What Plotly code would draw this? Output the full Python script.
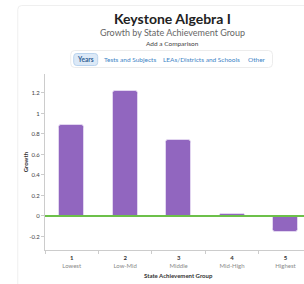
import plotly.graph_objects as go

# ---- data ----
categories = ["1", "2", "3", "4", "5"]
group_labels = ["Lowest", "Low-Mid", "Middle", "Mid-High", "Highest"]
growth = [0.89, 1.22, 0.74, 0.02, -0.16]

W, H = 304, 284
L, T, B_edge = 44.75, 74, 250   # plot area in window pixels
B = H - B_edge
R = 0
PW = W - L - R
PH = H - T - B

def px(x):
    return (x - L) / PW

def py(y):
    return (H - B - y) / PH

def rrect(x0, y0, x1, y1, r):
    rx = r / PW
    ry = r / PH
    a, b, c, d = px(x0), px(x1), py(y0), py(y1)  # c top, d bottom
    return (f"M {a+rx},{c} L {b-rx},{c} Q {b},{c} {b},{c-ry} "
            f"L {b},{d+ry} Q {b},{d} {b-rx},{d} L {a+rx},{d} "
            f"Q {a},{d} {a},{d+ry} L {a},{c-ry} Q {a},{c} {a+rx},{c} Z")

font = "Lato, 'Open Sans', sans-serif"

ticktext = [f"<b>{c}</b><br><span style='color:#8a8a8a'>{g}</span>"
            for c, g in zip(categories, group_labels)]

fig = go.Figure(go.Bar(
    x=categories, y=growth, width=0.47,
    marker=dict(color="#9166bf", line=dict(color="#e2d6f0", width=1),
                cornerradius=3),
    hoverinfo="skip",
))

shapes = [
    dict(type="path", xref="paper", yref="paper",
         path=rrect(17.5, 5.5, 330, 300, 4),
         line=dict(color="#efefef", width=1), fillcolor="rgba(0,0,0,0)", layer="below"),
    dict(type="path", xref="paper", yref="paper",
         path=rrect(70.5, 50.5, 272.5, 67.5, 4),
         line=dict(color="#ececec", width=1), fillcolor="white", layer="below"),
    dict(type="path", xref="paper", yref="paper",
         path=rrect(73.5, 53.5, 97.5, 65.5, 3),
         line=dict(color="#b9d3ee", width=1), fillcolor="#dce9f7", layer="below"),
    dict(type="line", xref="paper", yref="y", x0=0, x1=1, y0=0, y1=0,
         line=dict(color="#6cc04a", width=2), layer="above"),
]

def ann(text, x, y, size, color, **kw):
    d = dict(text=text, x=px(x), y=py(y), xref="paper", yref="paper",
             showarrow=False, font=dict(size=size, color=color),
             xanchor="center", yanchor="middle")
    d.update(kw)
    return d

annotations = [
    ann("<b>Keystone Algebra I</b>", 172, 18, 14, "#222"),
    ann("Growth by State Achievement Group", 172, 32, 9, "#666"),
    ann("Add a Comparison", 172, 43, 6.5, "#444"),
    ann("<b>Years</b>", 85.5, 59.5, 6.5, "#2f5f94"),
    ann("Tests and Subjects", 129.5, 59.5, 6.5, "#3d84c6"),
    ann("LEAs/Districts and Schools", 201.5, 59.5, 6.5, "#3d84c6"),
    ann("Other", 257, 59.5, 6.5, "#3d84c6"),
    ann("<b>Growth</b>", 25, 162, 6, "#333", textangle=-90),
    ann("<b>State Achievement Group</b>", 178, 275, 6, "#333"),
]

fig.update_layout(
    width=W, height=H,
    margin=dict(l=L, r=R, t=T, b=B, pad=0),
    paper_bgcolor="white", plot_bgcolor="white",
    font=dict(family=font, size=6, color="#444"),
    showlegend=False,
    bargap=0,
    shapes=shapes,
    annotations=annotations,
    xaxis=dict(type="category", range=[-0.5, 4.346],
               tickvals=categories, ticktext=ticktext,
               tickson="boundaries", ticks="outside", ticklen=3, tickcolor="#cccccc",
               ticklabelstandoff=2,
               showline=True, linecolor="#cccccc", linewidth=1,
               showgrid=False, tickfont=dict(size=6, color="#333"),
               fixedrange=True),
    yaxis=dict(range=[-0.332, 1.385],
               tickvals=[-0.2, 0, 0.2, 0.4, 0.6, 0.8, 1, 1.2],
               ticktext=["-0.2", "0", "0.2", "0.4", "0.6", "0.8", "1", "1.2"],
               ticks="outside", ticklen=3, tickcolor="#cccccc",
               showline=True, linecolor="#cccccc", linewidth=1,
               showgrid=False, zeroline=False,
               tickfont=dict(size=6, color="#444"),
               fixedrange=True),
)

fig.write_html(
    "out.html",
    config=dict(displayModeBar=False),
    post_script="document.body.style.margin='0';document.body.style.overflow='hidden';",
)
